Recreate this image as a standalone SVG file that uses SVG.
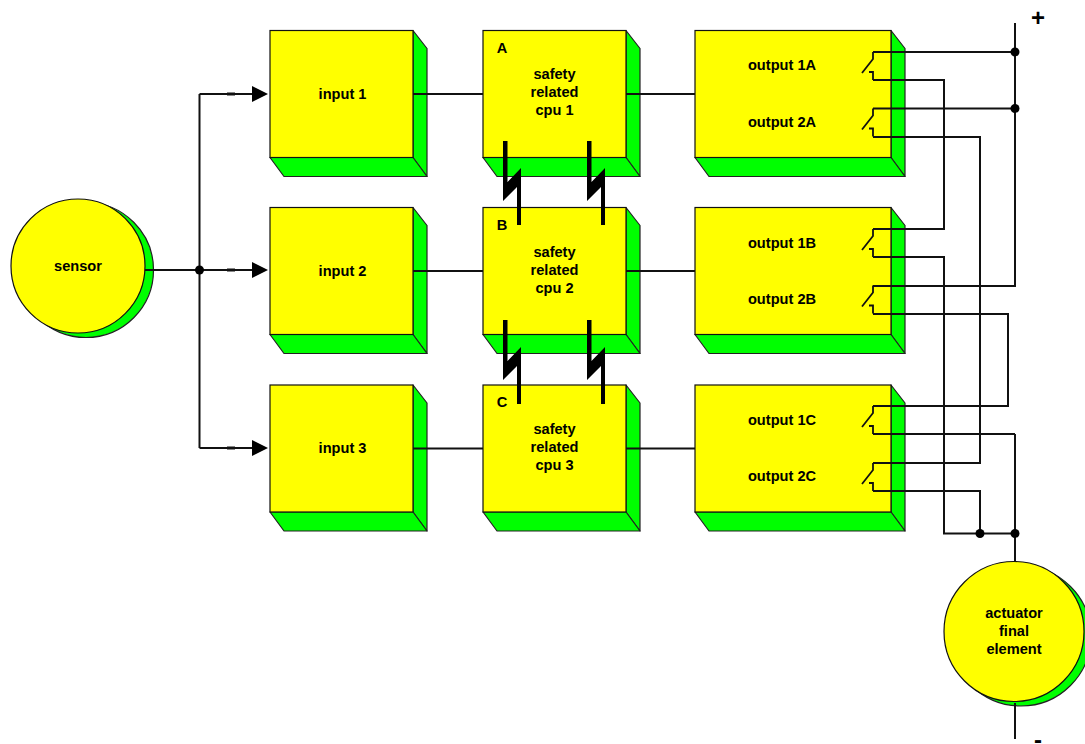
<svg xmlns="http://www.w3.org/2000/svg" xmlns:xlink="http://www.w3.org/1999/xlink" width="1085" height="744" viewBox="0 0 1085 744">
<style>
.f{fill:#ff0;stroke:#111;stroke-width:1.2}
.g{fill:#0f0;stroke:#222;stroke-width:1.2;stroke-linejoin:round}
.w{fill:none;stroke:#111;stroke-width:2}
.t{font-family:"Liberation Sans",Arial,sans-serif;font-weight:bold;font-size:14.6px;fill:#000;text-anchor:middle}
.d{fill:#000}
</style>
<defs>
<g id="box143">
<path class="g" d="M143 0L157 18V146L143 127Z"/>
<path class="g" d="M0 127H143L157 146H14Z"/>
<rect class="f" width="143" height="127"/>
</g>
<g id="box196">
<path class="g" d="M196 0L210 18V146L196 127Z"/>
<path class="g" d="M0 127H196L210 146H14Z"/>
<rect class="f" width="196" height="127"/>
</g>
<path id="bolt" d="M503 141H507.5V182L521 168V225H517V187L503 201Z" fill="#000"/>
<path id="sw" class="w" style="stroke-width:1.8" d="M873 0V7L862 21M869 20H873V28"/>
<path id="arrow" d="M252 -8L268 0L252 8Z" fill="#000"/>
</defs>
<g id="sensor">
<circle cx="86" cy="270" r="67.5" class="g"/>
<circle cx="78" cy="266" r="67" class="f"/>
<text class="t" x="78" y="271">sensor</text>
</g>
<g id="actuator">
<circle cx="1021" cy="636" r="70" class="g"/>
<circle cx="1014" cy="631.500" r="70" class="f"/>
<text class="t" x="1014" y="618">actuator</text>
<text class="t" x="1014" y="636">final</text>
<text class="t" x="1014" y="654">element</text>
</g>
<g id="input1"><use xlink:href="#box143" x="270" y="30.500"/><text class="t" x="342.500" y="99">input 1</text></g>
<g id="input2"><use xlink:href="#box143" x="270" y="207.500"/><text class="t" x="342.500" y="276">input 2</text></g>
<g id="input3"><use xlink:href="#box143" x="270" y="385"/><text class="t" x="342.500" y="453">input 3</text></g>
<g id="cpu1"><use xlink:href="#box143" x="483" y="30.500"/>
<text class="t" x="502" y="53">A</text><text class="t" x="554.500" y="79">safety</text><text class="t" x="554.500" y="97">related</text><text class="t" x="554.500" y="115">cpu 1</text></g>
<g id="cpu2"><use xlink:href="#box143" x="483" y="207.500"/>
<text class="t" x="502" y="230">B</text><text class="t" x="554.500" y="257">safety</text><text class="t" x="554.500" y="275">related</text><text class="t" x="554.500" y="293">cpu 2</text></g>
<g id="cpu3"><use xlink:href="#box143" x="483" y="385"/>
<text class="t" x="502" y="407">C</text><text class="t" x="554.500" y="434">safety</text><text class="t" x="554.500" y="452">related</text><text class="t" x="554.500" y="470">cpu 3</text></g>
<g id="output1"><use xlink:href="#box196" x="695" y="30.500"/><text class="t" x="782" y="70">output 1A</text><text class="t" x="782" y="127">output 2A</text></g>
<g id="output2"><use xlink:href="#box196" x="695" y="207.500"/><text class="t" x="782" y="248">output 1B</text><text class="t" x="782" y="304">output 2B</text></g>
<g id="output3"><use xlink:href="#box196" x="695" y="385"/><text class="t" x="782" y="425">output 1C</text><text class="t" x="782" y="481">output 2C</text></g>
<g id="connectors">
<path class="w" d="M145 270H254M199.500 94V448M199.500 94H254M199.500 448H254"/>
<path class="w" style="stroke-width:3" d="M227 94H235M227 270H235M227 448H235"/>
<use xlink:href="#arrow" y="94"/><use xlink:href="#arrow" y="270"/><use xlink:href="#arrow" y="448"/>
<circle class="d" cx="199.500" cy="270" r="4.500"/>
<path class="w" d="M413 94H483M413 271H483M413 448.500H483M626 94H695M626 271H695M626 448.500H695"/>
<use xlink:href="#sw" y="52"/><use xlink:href="#sw" y="108.500"/><use xlink:href="#sw" y="229"/><use xlink:href="#sw" y="285.500"/><use xlink:href="#sw" y="406"/><use xlink:href="#sw" y="463"/>
<path class="w" d="M1015 23V286H873M873 52H1015M873 108.500H1015"/>
<path class="w" d="M873 80H944V229H873M873 257H944V533.500H1015M1015 434H873M1015 434V562"/>
<path class="w" d="M873 137H980V463H873M873 491H980V533.500"/>
<path class="w" d="M873 314H1008V406H873"/>
<path class="w" d="M1015 703V739"/>
<circle class="d" cx="1015" cy="52" r="4.500"/><circle class="d" cx="1015" cy="108.500" r="4.500"/><circle class="d" cx="980" cy="533.500" r="4.500"/><circle class="d" cx="1015" cy="533.500" r="4.500"/>
<use xlink:href="#bolt"/><use xlink:href="#bolt" x="84"/><use xlink:href="#bolt" y="179"/><use xlink:href="#bolt" x="84" y="179"/>
</g>
<text x="1038" y="26" style="font-family:'Liberation Sans',Arial,sans-serif;font-weight:bold;font-size:24px;text-anchor:middle">+</text>
<text x="1038" y="748" style="font-family:'Liberation Sans',Arial,sans-serif;font-weight:bold;font-size:24px;text-anchor:middle">-</text>
</svg>
